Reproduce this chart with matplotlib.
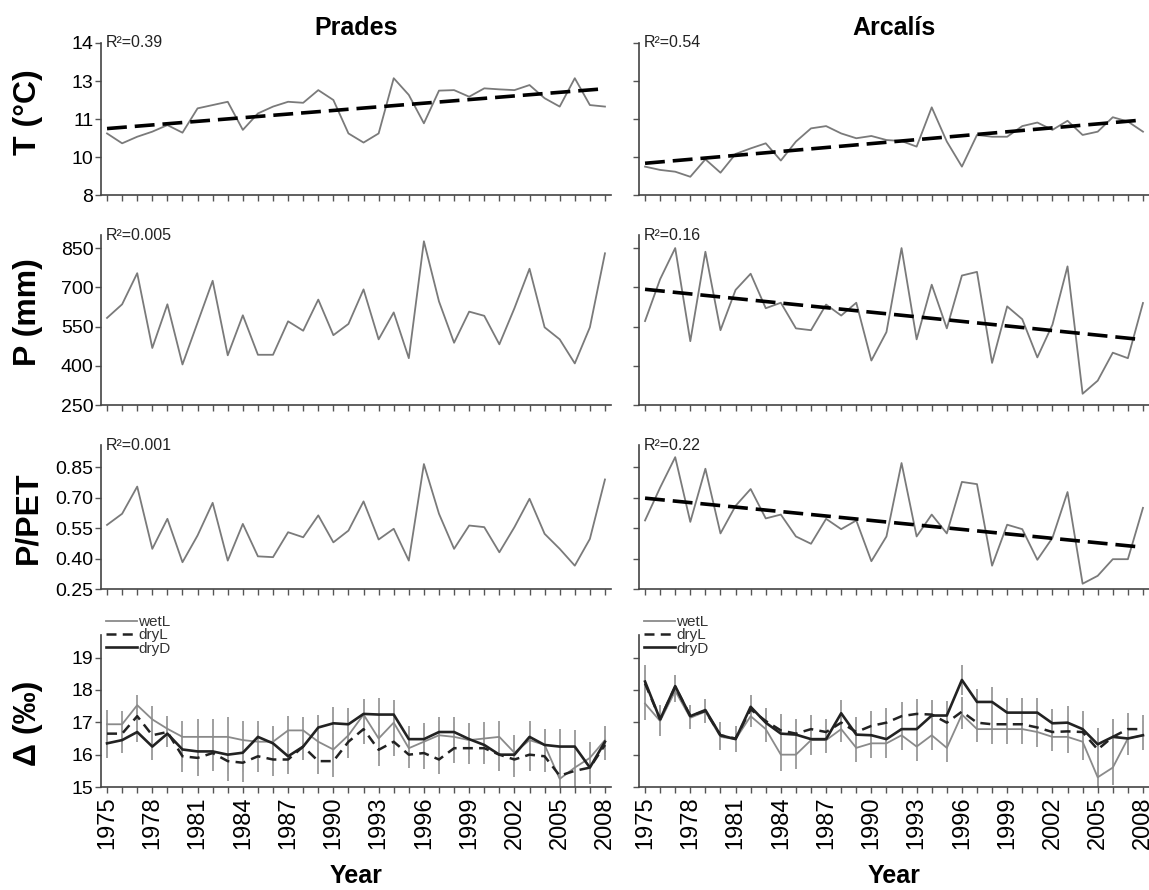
import numpy as np
import matplotlib.pyplot as plt
from matplotlib.ticker import MultipleLocator, FixedLocator
from matplotlib.lines import Line2D

plt.rcParams['font.family'] = ['Liberation Sans', 'DejaVu Sans']

years = list(range(1975, 2009))

# mean annual temperature (degC)
prades_t = [10.43, 10.04, 10.30, 10.50, 10.76, 10.46, 11.42, 11.55, 11.68, 10.57,
            11.22, 11.49, 11.68, 11.64, 12.14, 11.75, 10.43, 10.07, 10.43, 12.61,
            11.95, 10.83, 12.12, 12.14, 11.88, 12.21, 12.17, 12.14, 12.34, 11.82,
            11.49, 12.61, 11.55, 11.49]
arcalis_t = [9.12, 8.99, 8.92, 8.72, 9.41, 8.88, 9.62, 9.84, 10.04, 9.36,
             10.11, 10.63, 10.72, 10.43, 10.24, 10.33, 10.17, 10.13, 9.91, 11.46,
             10.11, 9.12, 10.37, 10.30, 10.30, 10.72, 10.86, 10.57, 10.93, 10.37,
             10.50, 11.07, 10.90, 10.50]

# annual precipitation (mm)
prades_p = [583, 635, 754, 468, 635, 405, 565, 725, 440, 593,
            442, 442, 570, 534, 653, 517, 560, 692, 501, 604,
            429, 876, 646, 488, 607, 591, 482, 620, 771, 547,
            501, 409, 547, 830]
arcalis_p = [571, 731, 850, 494, 836, 536, 690, 752, 620, 641,
             543, 536, 634, 592, 641, 420, 529, 850, 501, 710,
             543, 745, 759, 411, 627, 578, 432, 557, 780, 293,
             343, 450, 429, 640]

# precipitation / potential evapotranspiration
prades_pet = [0.566, 0.621, 0.755, 0.448, 0.596, 0.382, 0.514, 0.675, 0.390, 0.571,
              0.411, 0.407, 0.530, 0.505, 0.613, 0.480, 0.538, 0.682, 0.494, 0.547,
              0.390, 0.866, 0.621, 0.448, 0.563, 0.555, 0.431, 0.555, 0.695, 0.522,
              0.448, 0.365, 0.497, 0.790]
arcalis_pet = [0.588, 0.750, 0.900, 0.581, 0.843, 0.524, 0.660, 0.743, 0.598, 0.617,
               0.509, 0.473, 0.596, 0.545, 0.588, 0.387, 0.509, 0.871, 0.509, 0.617,
               0.524, 0.778, 0.767, 0.365, 0.567, 0.545, 0.394, 0.502, 0.728, 0.276,
               0.315, 0.397, 0.397, 0.650]

# carbon isotope discrimination (per mil)
prades_wetL = [16.94, 16.94, 17.53, 17.09, 16.80, 16.55, 16.55, 16.55, 16.55, 16.45,
               16.40, 16.40, 16.75, 16.75, 16.40, 16.16, 16.60, 17.24, 16.50, 16.99,
               16.20, 16.40, 16.60, 16.55, 16.45, 16.50, 16.55, 16.06, 16.45, 16.30,
               15.25, 15.60, 15.90, 16.45]
prades_dryL = [16.65, 16.65, 17.19, 16.60, 16.70, 15.95, 15.90, 16.05, 15.80, 15.75,
               15.95, 15.85, 15.85, 16.25, 15.80, 15.80, 16.40, 16.79, 16.15, 16.40,
               16.00, 16.05, 15.85, 16.20, 16.20, 16.20, 16.00, 15.85, 16.00, 15.95,
               15.35, 15.50, 15.60, 16.30]
prades_dryD = [16.35, 16.45, 16.70, 16.25, 16.65, 16.16, 16.10, 16.10, 16.00, 16.06,
               16.55, 16.35, 15.95, 16.25, 16.84, 16.97, 16.94, 17.26, 17.24, 17.24,
               16.48, 16.48, 16.70, 16.70, 16.48, 16.30, 16.00, 16.00, 16.55, 16.30,
               16.25, 16.25, 15.60, 16.40]
prades_err = [0.45, 0.40, 0.30, 0.40, 0.40, 0.50, 0.55, 0.55, 0.60, 0.60,
              0.50, 0.50, 0.45, 0.40, 0.40, 0.50, 0.50, 0.45, 0.50, 0.45,
              0.40, 0.50, 0.45, 0.45, 0.50, 0.50, 0.50, 0.55, 0.50, 0.50,
              0.55, 0.50, 0.50, 0.45]

arcalis_wetL = [17.58, 17.04, 17.97, 17.14, 17.33, 16.55, 16.48, 17.19, 16.79, 16.00,
                16.00, 16.45, 16.45, 16.79, 16.21, 16.35, 16.35, 16.60, 16.25, 16.60,
                16.21, 17.24, 16.79, 16.79, 16.79, 16.79, 16.70, 16.55, 16.55, 16.40,
                15.30, 15.60, 16.50, 16.60]
arcalis_dryL = [18.20, 17.10, 18.10, 17.20, 17.35, 16.60, 16.50, 17.40, 17.04, 16.75,
                16.65, 16.79, 16.70, 16.99, 16.70, 16.89, 16.99, 17.19, 17.26, 17.24,
                16.99, 17.33, 16.99, 16.94, 16.94, 16.94, 16.84, 16.70, 16.72, 16.70,
                16.16, 16.55, 16.79, 16.79]
arcalis_dryD = [18.26, 17.09, 18.12, 17.19, 17.38, 16.60, 16.48, 17.48, 16.99, 16.65,
                16.62, 16.48, 16.48, 17.28, 16.62, 16.60, 16.48, 16.79, 16.79, 17.21,
                17.21, 18.31, 17.63, 17.63, 17.30, 17.30, 17.30, 16.97, 16.99, 16.79,
                16.32, 16.55, 16.50, 16.60]
arcalis_err = [0.50, 0.45, 0.35, 0.35, 0.35, 0.40, 0.40, 0.35, 0.40, 0.50,
               0.45, 0.45, 0.40, 0.40, 0.45, 0.45, 0.45, 0.45, 0.45, 0.45,
               0.45, 0.45, 0.40, 0.45, 0.45, 0.45, 0.45, 0.45, 0.50, 0.55,
               0.50, 0.55, 0.50, 0.45]

sites = ['Prades', 'Arcalís']
year_labels = years[::3]
t_ticks = [8, 9.5, 11, 12.5, 14]
t_ticklabels = ['8', '10', '11', '13', '14']
p_ticks = [250, 400, 550, 700, 850]
pet_ticks = [0.25, 0.40, 0.55, 0.70, 0.85]
pet_ticklabels = ['0.25', '0.40', '0.55', '0.70', '0.85']
d_ticks = [15, 16, 17, 18, 19]
r2_t = ['0.39', '0.54']
r2_p = ['0.005', '0.16']
r2_pet = ['0.001', '0.22']
trend_p = [False, True]
trend_pet = [False, True]

W, H = 1149, 890
fig = plt.figure(figsize=(W / 100, H / 100), dpi=100)

col_left = [101, 639]
col_width = 510
rows = [(43, 195), (235, 405), (445, 589), (635, 787)]  # top, bottom in px


def make_axes(col, row):
    top, bottom = rows[row]
    return fig.add_axes([col_left[col] / W, 1 - bottom / H,
                         col_width / W, (bottom - top) / H])


def style(ax, show_years, show_ylabels):
    for s in ['top', 'right']:
        ax.spines[s].set_visible(False)
    for s in ['left', 'bottom']:
        ax.spines[s].set_color('#444444')
        ax.spines[s].set_linewidth(1.2)
    ax.set_xlim(1974.6, 2008.4)
    ax.xaxis.set_major_locator(FixedLocator(year_labels))
    ax.xaxis.set_minor_locator(MultipleLocator(1))
    ax.tick_params(which='both', direction='out', length=4.5, width=1.0,
                   color='#555555', labelsize=14)
    ax.tick_params(axis='x', which='major', labelsize=17, labelrotation=90,
                   labelbottom=show_years, pad=2)
    ax.tick_params(axis='y', labelleft=show_ylabels, pad=1)


def r2(ax, txt):
    ax.text(0.01, 1.0, 'R²=' + txt, transform=ax.transAxes, fontsize=11.5,
            ha='left', va='center', color='#222222')


def trend(ax, y):
    k, b = np.polyfit(years, y, 1)
    xs = np.array([years[0], years[-1]])
    ax.plot(xs, k * xs + b, color='black', lw=2.6, dashes=(5.5, 2.2))


temps = [prades_t, arcalis_t]
precs = [prades_p, arcalis_p]
pets = [prades_pet, arcalis_pet]
wetL = [prades_wetL, arcalis_wetL]
dryL = [prades_dryL, arcalis_dryL]
dryD = [prades_dryD, arcalis_dryD]
errs = [prades_err, arcalis_err]

for c in range(2):
    left = (c == 0)

    # temperature
    ax = make_axes(c, 0)
    ax.plot(years, temps[c], color='#7a7a7a', lw=1.3)
    trend(ax, temps[c])
    ax.set_ylim(8, 14)
    ax.set_yticks(t_ticks)
    ax.set_yticklabels(t_ticklabels)
    style(ax, False, left)
    r2(ax, r2_t[c])
    ax.set_title(sites[c], fontsize=18, fontweight='bold', pad=6)

    # precipitation
    ax = make_axes(c, 1)
    ax.plot(years, precs[c], color='#7a7a7a', lw=1.3)
    if trend_p[c]:
        trend(ax, precs[c])
    ax.set_ylim(250, 900)
    ax.set_yticks(p_ticks)
    style(ax, False, left)
    r2(ax, r2_p[c])

    # P/PET
    ax = make_axes(c, 2)
    ax.plot(years, pets[c], color='#7a7a7a', lw=1.3)
    if trend_pet[c]:
        trend(ax, pets[c])
    ax.set_ylim(0.25, 0.96)
    ax.set_yticks(pet_ticks)
    ax.set_yticklabels(pet_ticklabels)
    style(ax, False, left)
    r2(ax, r2_pet[c])

    # discrimination with error bars
    ax = make_axes(c, 3)
    for s in [wetL[c], dryL[c], dryD[c]]:
        ax.errorbar(years, s, yerr=errs[c], fmt='none', ecolor='#a0a0a0',
                    elinewidth=1.4, capsize=0)
    ax.plot(years, wetL[c], color='#8a8a8a', lw=1.3)
    ax.plot(years, dryL[c], color='#222222', lw=1.8, dashes=(4, 2.5))
    ax.plot(years, dryD[c], color='#222222', lw=1.9)
    ax.set_ylim(15, 19.7)
    ax.set_yticks(d_ticks)
    style(ax, True, left)
    handles = [Line2D([], [], color='#8a8a8a', lw=1.3),
               Line2D([], [], color='#222222', lw=1.8, dashes=(4, 2.5)),
               Line2D([], [], color='#222222', lw=1.9)]
    leg = ax.legend(handles, ['wetL', 'dryL', 'dryD'], loc='upper left',
                    bbox_to_anchor=(0.01, 1.13), frameon=False, fontsize=11,
                    handlelength=2.0, handletextpad=0.1, labelspacing=-0.05,
                    borderpad=0, borderaxespad=0)
    for t in leg.get_texts():
        t.set_color('#333333')

    fig.text((col_left[c] + col_width / 2) / W, 1 - 876 / H, 'Year',
             ha='center', va='center', fontsize=18, fontweight='bold')

# y axis titles
ylabels = [('T (°C)', 112), ('P (mm)', 312), ('P/PET', 518), ('Δ (‰)', 723)]
for txt, yc in ylabels:
    fig.text(28 / W, 1 - yc / H, txt, rotation=90, ha='center', va='center',
             fontsize=23, fontweight='bold')

fig.savefig('out.png', dpi=100)
